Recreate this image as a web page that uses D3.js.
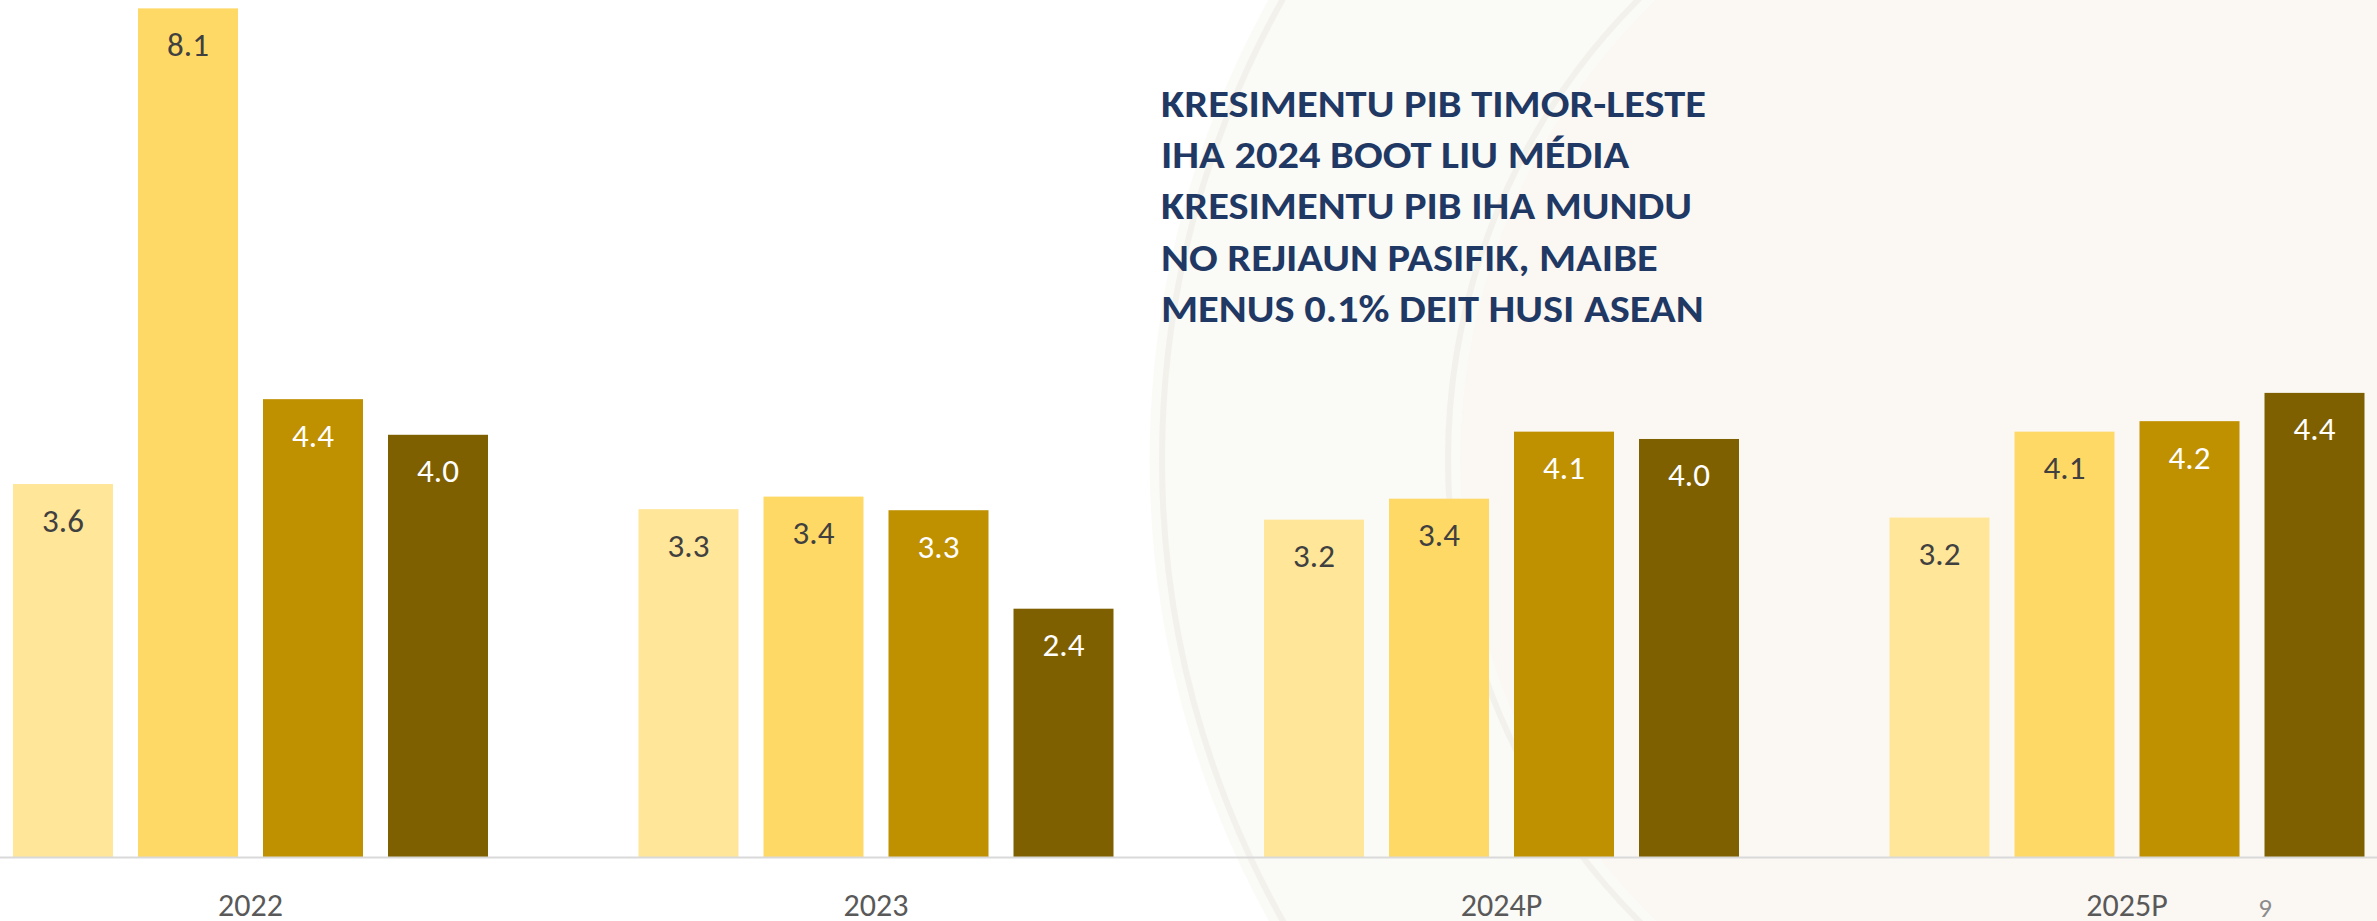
<!DOCTYPE html>
<html>
<head>
<meta charset="utf-8">
<script src="https://cdn.jsdelivr.net/npm/d3@7"></script>
<style>
  html, body { margin: 0; padding: 0; background: #ffffff; overflow: hidden; }
  svg { display: block; }
</style>
</head>
<body>
<svg id="chart" width="2377" height="921"></svg>
<script>
// ---- data ----
const years = ["2022", "2023", "2024P", "2025P"];
const seriesKeys = ["s1", "s2", "s3", "s4"];
const s1 = [3.56, 3.32, 3.22, 3.24];
const s2 = [8.10, 3.44, 3.42, 4.06];
const s3 = [4.37, 3.31, 4.06, 4.16];
const s4 = [4.03, 2.37, 3.99, 4.43];
const seriesColors = ["#FFE699", "#FFD966", "#BF9000", "#7F6000"];
const labelColors = ["#404040", "#404040", "#FFFFFF", "#FFFFFF"];
const titleLines = [
  "KRESIMENTU PIB TIMOR-LESTE",
  "IHA 2024 BOOT LIU MÉDIA",
  "KRESIMENTU PIB IHA MUNDU",
  "NO REJIAUN PASIFIK, MAIBE",
  "MENUS 0.1% DEIT HUSI ASEAN"
];
const pageNumber = "9";

const seriesValues = [s1, s2, s3, s4];
const W = 2377, H = 921;
const baseY = 857;
const font = "Carlito, Calibri, Lato, 'Noto Sans', sans-serif";

const svg = d3.select("#chart");

// ---- background decoration (slide watermark) ----
const bg = svg.append("g");
bg.append("rect").attr("x", 0).attr("y", 0).attr("width", W).attr("height", H).attr("fill", "#FFFFFF");
const cx = 2100, cy = 460, rOut = 950, rIn = 640;
const ring = d3.arc().innerRadius(rIn).outerRadius(rOut).startAngle(0).endAngle(2 * Math.PI);
bg.append("path").attr("transform", `translate(${cx},${cy})`).attr("d", ring())
  .attr("fill", "#F6F5F1").attr("opacity", 0.55);
bg.append("circle").attr("cx", cx).attr("cy", cy).attr("r", rIn).attr("fill", "#FBF8F4");
bg.append("rect").attr("x", 2100).attr("y", 0).attr("width", W - 2100).attr("height", H).attr("fill", "#FBF8F4");
bg.append("circle").attr("cx", cx).attr("cy", cy).attr("r", rOut - 12).attr("fill", "none")
  .attr("stroke", "#F1EFE8").attr("stroke-width", 6).attr("opacity", 0.8);
bg.append("circle").attr("cx", cx).attr("cy", cy).attr("r", rIn + 12).attr("fill", "none")
  .attr("stroke", "#F1EFE8").attr("stroke-width", 6).attr("opacity", 0.8);

// ---- scales ----
const x0 = d3.scaleBand().domain(years).range([-62.25, 2439.75]).paddingInner(0).paddingOuter(0);
const x1 = d3.scaleBand().domain(seriesKeys).range([62.75, 562.75]).paddingInner(0.2).paddingOuter(0.1);
const y = d3.scaleLinear().domain([0, 8.18]).range([baseY, 0]);
const fmt = d3.format(".1f");

// ---- bars ----
const groups = svg.append("g").selectAll("g").data(years).join("g")
  .attr("transform", d => `translate(${x0(d)},0)`);

groups.selectAll("rect")
  .data((d, i) => seriesKeys.map((k, j) => ({ key: k, j, v: seriesValues[j][i] })))
  .join("rect")
  .attr("x", d => x1(d.key))
  .attr("y", d => y(d.v))
  .attr("width", x1.bandwidth())
  .attr("height", d => baseY - y(d.v))
  .attr("fill", d => seriesColors[d.j]);

groups.selectAll("text")
  .data((d, i) => seriesKeys.map((k, j) => ({ key: k, j, v: seriesValues[j][i] })))
  .join("text")
  .attr("x", d => x1(d.key) + x1.bandwidth() / 2)
  .attr("y", d => y(d.v) + 47.5)
  .attr("text-anchor", "middle")
  .attr("font-family", font)
  .attr("font-size", 33)
  .attr("fill", d => labelColors[d.j])
  .text(d => fmt(d.v));

// ---- axis ----
const axis = svg.append("g").attr("transform", `translate(0,${baseY})`)
  .call(d3.axisBottom(x0).tickSize(0).tickPadding(0));
axis.select(".domain").attr("d", `M0,0.5H${W}`).attr("stroke", "#D9D9D9").attr("stroke-width", 2);
axis.selectAll(".tick text")
  .attr("y", 59).attr("dy", 0)
  .attr("font-family", font).attr("font-size", 32).attr("fill", "#595959");

// ---- title ----
const titleX = 1161, titleY = 117, titleWidth = 545;
const title = svg.append("text")
  .attr("x", titleX).attr("y", titleY)
  .attr("font-family", font).attr("font-weight", "bold").attr("font-size", 38)
  .attr("fill", "#1F3864");
const tsp = title.selectAll("tspan").data(titleLines).join("tspan")
  .attr("x", titleX).attr("dy", (d, i) => i === 0 ? 0 : 51.2)
  .text(d => d);
// stretch horizontally (condensed-bold look of the original)
const natural = tsp.nodes().map(n => n.getComputedTextLength());
const k = titleWidth / natural[0];
tsp.each(function (d, i) {
  d3.select(this).attr("textLength", natural[i] * k).attr("lengthAdjust", "spacingAndGlyphs");
});

// ---- page number ----
svg.append("text").attr("x", 2265).attr("y", 917).attr("text-anchor", "middle")
  .attr("font-family", font).attr("font-size", 27).attr("fill", "#8C8C8C").text(pageNumber);
</script>
</body>
</html>
